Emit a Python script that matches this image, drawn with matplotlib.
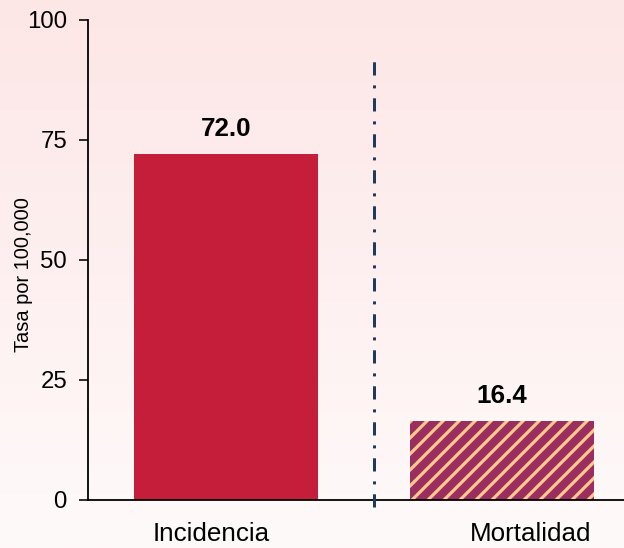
import numpy as np
import matplotlib
matplotlib.use("Agg")
from matplotlib import pyplot as plt

plt.rcParams['font.family'] = ['Liberation Sans', 'DejaVu Sans']
plt.rcParams['hatch.linewidth'] = 1.6

# datos
categorias = ['Incidencia', 'Mortalidad']
tasas = [72.0, 16.4]
etiquetas = ['72.0', '16.4']
y_ticks = [0, 25, 50, 75, 100]

fig = plt.figure(figsize=(624 / 144, 548 / 144), dpi=144)

# fondo degradado rosa -> casi blanco
bg = fig.add_axes([0, 0, 1, 1], zorder=0)
grad = np.linspace(0, 1, 256).reshape(-1, 1)
top = np.array([253, 230, 230]) / 255
bottom = np.array([255, 250, 250]) / 255
img = top + (bottom - top) * grad[:, :, None]
bg.imshow(img, aspect='auto', extent=[0, 1, 0, 1])
bg.axis('off')

ax = fig.add_axes([88 / 624, 48 / 548, 1 - 88 / 624, (500 - 20) / 548], zorder=1)
ax.patch.set_alpha(0)

x = np.arange(len(categorias))
ax.bar(x[0], tasas[0], width=0.667, color='#c41e3a')
ax.bar(x[1], tasas[1], width=0.667, color='#9b2d5f', edgecolor='#ffc98c',
       hatch='///', linewidth=0)

for xi, v, t in zip(x, tasas, etiquetas):
    ax.annotate(t, (xi, v), xytext=(0, 9), textcoords='offset points',
                ha='center', va='baseline', fontsize=13, fontweight='bold')

# linea divisoria
ax.plot([0.536, 0.536], [-1.5, 93], color='#1f3a5c', lw=1.5,
        linestyle=(0, (4.4, 3.3, 1, 3.3)), clip_on=False, zorder=3)

ax.set_xlim(-0.5, 1.442)
ax.set_ylim(0, 100)
ax.set_yticks(y_ticks)
ax.set_xticks([-0.054, 1.105])
ax.set_xticklabels(categorias, fontsize=13)
ax.tick_params(axis='x', length=0, pad=11)
ax.tick_params(axis='y', labelsize=12, length=4.5, width=0.8, pad=6)
ax.set_ylabel('Tasa por 100,000', fontsize=10)
ax.yaxis.set_label_coords(-0.103, 0.47)

for s in ['top', 'right']:
    ax.spines[s].set_visible(False)
for s in ['left', 'bottom']:
    ax.spines[s].set_linewidth(0.9)

fig.savefig('out.png', dpi=144)
